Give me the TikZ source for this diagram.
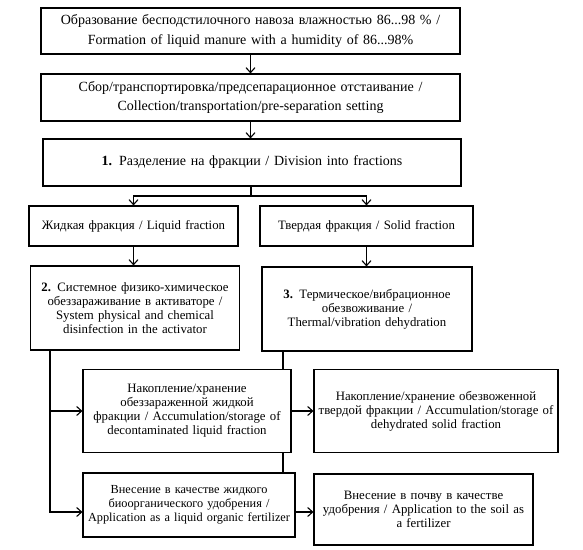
\documentclass[tikz,border=0pt]{standalone}
\usepackage{fontspec}
\setmainfont{Liberation Serif}
\usepackage{tikz}
\usetikzlibrary{arrows.meta,positioning,backgrounds}
\hyphenpenalty=10000
\exhyphenpenalty=10000
\tikzset{blk/.style={draw,line width=1.1pt,fill=white,align=center,inner xsep=1pt,inner ysep=2pt,
 font=\fontsize{12.8}{14}\selectfont},
 wide/.style={blk,font=\fontsize{14}{19.5}\selectfont},
 arr/.style={-{Straight Barb[length=5pt,width=9pt]},line width=1.1pt},
 ln/.style={line width=1.1pt}}

\begin{document}
\begin{tikzpicture}[x=1pt,y=-1pt]
\useasboundingbox (0,0) rectangle (583,549);
\node[wide,text width=417,minimum height=46] (form) at (250.5,31)
 {Образование бесподстилочного навоза влажностью 86...98 \% /\\ Formation of liquid manure with a humidity of 86...98\%};
\node[wide,text width=417,minimum height=47] (coll) at (250.5,97.5)
 {Сбор/транспортировка/предсепарационное отстаивание /\\ Collection/transportation/pre-separation setting};
\node[wide,text width=416,minimum height=47] (div) at (252,162.5)
 {\textbf{1.} Разделение на фракции / Division into fractions};
\node[blk,text width=207,minimum height=40] (liq) at (133.5,226) {Жидкая фракция / Liquid fraction};
\node[blk,text width=211,minimum height=40] (sol) at (366.5,226) {Твердая фракция / Solid fraction};
\node[blk,text width=207,minimum height=84] (dis) at (135,308)
 {\textbf{2.} Системное физико-химическое\\ обеззараживание в активаторе /\\ System physical and chemical\\ disinfection in the activator};
\node[blk,text width=208,minimum height=84] (deh) at (367,309)
 {\textbf{3.} Термическое/вибрационное\\ обезвоживание /\\ Thermal/vibration dehydration};
\node[blk,text width=206,minimum height=83] (accl) at (187,411)
 {Накопление/хранение\\ обеззараженной жидкой\\ фракции / Accumulation/storage of\\ decontaminated liquid fraction};
\node[blk,text width=242,minimum height=83] (accs) at (436,411)
 {Накопление/хранение обезвоженной\\ твердой фракции / Accumulation/storage of\\ dehydrated solid fraction};
\node[blk,text width=212,inner xsep=0pt,minimum height=64,font=\fontsize{12.3}{14}\selectfont] (appl) at (189,505)
 {Внесение в качестве жидкого\\ биоорганического удобрения /\\ \mbox{Application as a liquid organic fertilizer}};
\node[blk,text width=217,minimum height=71] (apps) at (423.5,509.5)
 {Внесение в почву в качестве\\ удобрения / Application to the soil as\\ a fertilizer};
\coordinate (split) at (251,196);
\coordinate (lx) at (50,512);
\coordinate (dx) at (283,0);
\draw[arr] (form) -- (coll);
\draw[arr] (coll.south) -- (coll.south |- div.north);
\draw[ln] (div.south -| split) -- (split);
\draw[arr] (split) -| (liq.north);
\draw[arr] (split) -| (sol.north);
\draw[arr] (liq) -- (liq.south |- dis.north);
\draw[arr] (sol) -- (sol.south |- deh.north);
\draw[arr] (dis.south -| lx) |- (accl.west);
\draw[arr] (dis.south -| lx) |- (lx -| appl.west);
\begin{scope}[on background layer]
\draw[ln] (deh.south -| dx) -- (appl.north -| dx);
\end{scope}
\draw[arr] (accl.east) -- (accl.east -| accs.west);
\draw[arr] (lx -| appl.east) -- (lx -| apps.west);
\end{tikzpicture}
\end{document}
